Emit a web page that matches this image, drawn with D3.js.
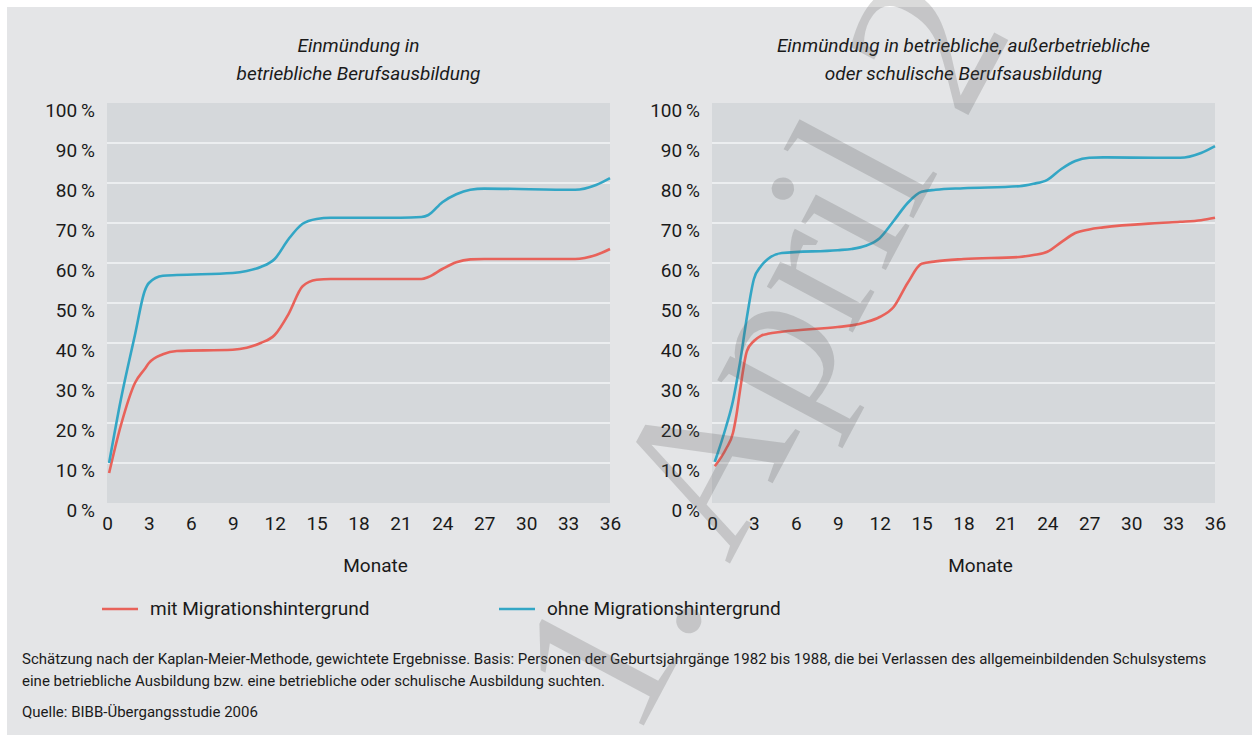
<!DOCTYPE html>
<html>
<head>
<meta charset="utf-8">
<script src="https://cdn.jsdelivr.net/npm/d3@7"></script>
<style>
  body { margin: 0; background: #fff; }
  svg { display: block; }
</style>
</head>
<body>
<div id="chart"></div>
<script>
// months after leaving school
var monthsLeft = [0.15, 1, 2, 2.7, 3, 4, 5, 9, 10, 11, 12, 13, 14, 15, 16, 21, 22.5, 23, 24, 25, 26, 27, 33.5, 35, 36];
var leftMit  = [7.5, 19.5, 30, 33.5, 35, 37.2, 38, 38.3, 38.8, 40, 42, 47.3, 54.2, 55.8, 56, 56, 56, 56.5, 58.5, 60.2, 60.9, 61, 61, 62, 63.5];
var leftOhne = [10, 26, 42, 53, 55, 56.8, 57, 57.5, 58, 59, 61, 66, 69.8, 71, 71.3, 71.3, 71.5, 72, 75.2, 77.2, 78.3, 78.6, 78.3, 79.5, 81.2];

var monthsRight = [0.2, 1, 1.5, 1.75, 2, 2.5, 3, 3.5, 4, 5, 9, 10, 11, 12, 13, 14, 15, 16, 18, 22, 23, 24, 25, 26, 27, 28, 32, 33.5, 35, 36];
var rightMit  = [9.2, 13.5, 17.5, 22, 28, 38, 40.5, 41.8, 42.3, 42.8, 44, 44.4, 45.2, 46.5, 49, 55, 59.8, 60.4, 61, 61.5, 62, 62.8, 65.2, 67.5, 68.4, 68.9, 70, 70.3, 70.7, 71.3];
var rightOhne = [10.3, 19, 25.5, 30, 35, 46.5, 56, 59.2, 61, 62.5, 63.2, 63.5, 64.3, 66.2, 70.5, 75, 77.8, 78.3, 78.7, 79.2, 79.8, 80.8, 83.5, 85.5, 86.3, 86.4, 86.3, 86.3, 87.5, 89.2];

var xTicks = [0, 3, 6, 9, 12, 15, 18, 21, 24, 27, 30, 33, 36];
var yTicks = [0, 10, 20, 30, 40, 50, 60, 70, 80, 90, 100];

var titleLeft = ["Einmündung in", "betriebliche Berufsausbildung"];
var titleRight = ["Einmündung in betriebliche, außerbetriebliche", "oder schulische Berufsausbildung"];
var seriesNames = ["mit Migrationshintergrund", "ohne Migrationshintergrund"];
var footnote = [
  "Schätzung nach der Kaplan-Meier-Methode, gewichtete Ergebnisse. Basis: Personen der Geburtsjahrgänge 1982 bis 1988, die bei Verlassen des allgemeinbildenden Schulsystems",
  "eine betriebliche Ausbildung bzw. eine betriebliche oder schulische Ausbildung suchten.",
  "Quelle: BIBB-Übergangsstudie 2006"
];

var W = 1252, H = 735;
var RED = "#e8625a", BLUE = "#33a6c5";
var FONT = "'Liberation Sans Narrow', 'Roboto', sans-serif";

var svg = d3.select("#chart").append("svg")
    .attr("width", W)
    .attr("height", H);

svg.append("rect")
    .attr("x", 7).attr("y", 7)
    .attr("width", W - 7).attr("height", H - 7)
    .attr("fill", "#e4e5e7");

var y = d3.scaleLinear().domain([0, 100]).range([503, 103]);

function drawPanel(x0, x1, title, months, mit, ohne) {
  var x = d3.scaleLinear().domain([0, 36]).range([x0, x1]);
  var g = svg.append("g");

  g.append("rect")
      .attr("x", x0).attr("y", y(100))
      .attr("width", x1 - x0).attr("height", y(0) - y(100))
      .attr("fill", "#d5d8db");

  g.selectAll(".grid")
    .data(yTicks.filter(function (d) { return d > 0 && d < 100; }))
    .enter().append("line")
      .attr("x1", x0).attr("x2", x1)
      .attr("y1", function (d) { return y(d); })
      .attr("y2", function (d) { return y(d); })
      .attr("stroke", "#eceef0")
      .attr("stroke-width", 2);

  // y axis labels
  var yAxis = d3.axisLeft(y).tickValues(yTicks).tickSize(0).tickPadding(12)
      .tickFormat(function (d) { return d + "\u2009%"; });
  var ya = g.append("g").attr("transform", "translate(" + x0 + ",7)").call(yAxis);
  ya.select(".domain").remove();
  ya.selectAll("text").attr("font-family", FONT).attr("font-size", 19).attr("fill", "#1a1a1a");

  // x axis labels
  var xAxis = d3.axisBottom(x).tickValues(xTicks).tickSize(0).tickPadding(14);
  var xa = g.append("g").attr("transform", "translate(0," + y(0) + ")").call(xAxis);
  xa.select(".domain").remove();
  xa.selectAll("text").attr("font-family", FONT).attr("font-size", 19).attr("fill", "#1a1a1a");

  g.append("text")
      .attr("x", (x0 + x1) / 2 + 17).attr("y", 572)
      .attr("text-anchor", "middle")
      .attr("font-family", FONT).attr("font-size", 19).attr("fill", "#1a1a1a")
      .text("Monate");

  g.selectAll(".title")
    .data(title)
    .enter().append("text")
      .attr("x", (x0 + x1) / 2)
      .attr("y", function (d, i) { return 52 + i * 28; })
      .attr("text-anchor", "middle")
      .attr("font-family", FONT).attr("font-style", "italic")
      .attr("font-size", 19).attr("fill", "#1a1a1a")
      .text(function (d) { return d; });

  var line = d3.line()
      .x(function (d) { return x(d[0]); })
      .y(function (d) { return y(d[1]); })
      .curve(d3.curveMonotoneX);

  [[mit, RED], [ohne, BLUE]].forEach(function (s) {
    g.append("path")
        .datum(months.map(function (m, i) { return [m, s[0][i]]; }))
        .attr("fill", "none")
        .attr("stroke", s[1])
        .attr("stroke-width", 2.6)
        .attr("d", line);
  });
}

drawPanel(107, 610, titleLeft, monthsLeft, leftMit, leftOhne);
drawPanel(712, 1215, titleRight, monthsRight, rightMit, rightOhne);

// legend
var legend = svg.append("g");
[[102, RED], [499, BLUE]].forEach(function (l, i) {
  legend.append("line")
      .attr("x1", l[0]).attr("x2", l[0] + 36)
      .attr("y1", 609).attr("y2", 609)
      .attr("stroke", l[1]).attr("stroke-width", 2.6);
  legend.append("text")
      .attr("x", l[0] + 48).attr("y", 615)
      .attr("font-family", FONT).attr("font-size", 19).attr("fill", "#1a1a1a")
      .text(seriesNames[i]);
});

// footnote
svg.selectAll(".foot")
  .data(footnote)
  .enter().append("text")
    .attr("x", 22)
    .attr("y", function (d, i) { return [664, 686, 717][i]; })
    .attr("font-family", FONT).attr("font-size", 15).attr("fill", "#1a1a1a")
    .text(function (d) { return d; });

// watermark
svg.append("text")
    .attr("transform", "translate(635,742) rotate(-62)")
    .attr("font-family", "'Liberation Serif', serif")
    .attr("font-size", 212)
    .attr("fill", "#555")
    .attr("fill-opacity", 0.22)
    .text("1. April 2");
</script>
</body>
</html>
